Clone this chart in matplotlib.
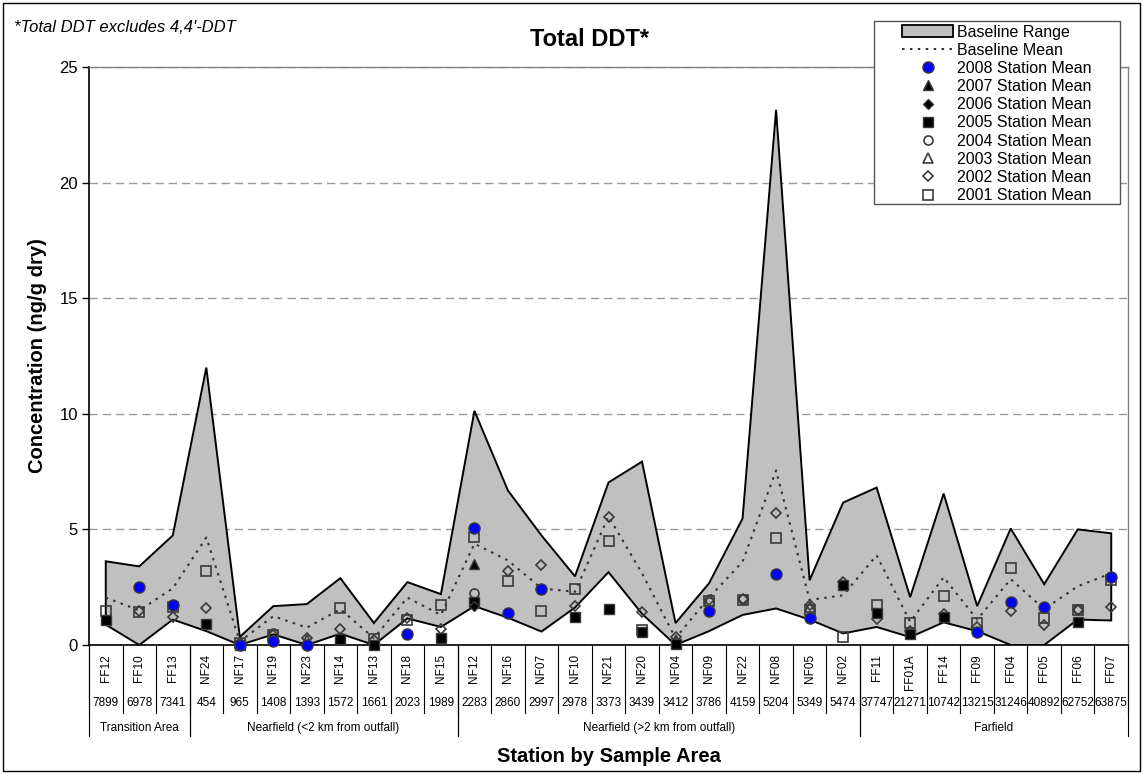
import numpy as np
import matplotlib
matplotlib.use("Agg")
import matplotlib.pyplot as plt
from matplotlib import transforms
from matplotlib.patches import Rectangle, Patch
from matplotlib.lines import Line2D

plt.rcParams['font.family'] = ['Liberation Sans', 'DejaVu Sans']

nan = np.nan

# ==========================================
# data
# ==========================================
stations = ["FF12", "FF10", "FF13", "NF24", "NF17", "NF19", "NF23", "NF14", "NF13", "NF18", "NF15",
            "NF12", "NF16", "NF07", "NF10", "NF21", "NF20", "NF04", "NF09", "NF22", "NF08", "NF05", "NF02",
            "FF11", "FF01A", "FF14", "FF09", "FF04", "FF05", "FF06", "FF07"]
depths = ["7899", "6978", "7341", "454", "965", "1408", "1393", "1572", "1661", "2023", "1989",
          "2283", "2860", "2997", "2978", "3373", "3439", "3412", "3786", "4159", "5204", "5349", "5474",
          "37747", "21271", "10742", "13215", "31246", "40892", "62752", "63875"]
areas = ["Transition Area", "Nearfield (<2 km from outfall)", "Nearfield (>2 km from outfall)", "Farfield"]
area_counts = [3, 8, 12, 8]

base_max = [3.62, 3.40, 4.74, 12.0, 0.35, 1.68, 1.77, 2.89, 0.95, 2.72, 2.2,
            10.13, 6.68, 4.74, 2.97, 7.03, 7.93, 0.95, 2.67, 5.47, 23.15, 2.8, 6.16,
            6.81, 2.07, 6.55, 1.68, 5.04, 2.63, 5.0, 4.83]
base_min = [0.88, 0.0, 1.1, 0.6, 0.0, 0.46, 0.0, 0.49, 0.0, 1.15, 0.78,
            1.68, 1.18, 0.58, 1.62, 3.15, 1.35, 0.0, 0.6, 1.3, 1.58, 1.1, 0.5,
            0.78, 0.34, 0.98, 0.6, 0.0, 0.0, 1.1, 1.06]
base_mean = [2.05, 1.5, 2.45, 4.65, 0.15, 1.25, 0.75, 1.55, 0.3, 2.05, 1.3,
             4.38, 3.66, 2.45, 2.3, 5.56, 3.1, 0.3, 2.05, 3.6, 7.55, 1.95, 2.15,
             3.88, 1.0, 2.93, 1.1, 2.85, 1.55, 2.54, 3.1]

y2008 = [nan, 2.5, 1.72, nan, 0.0, 0.17, 0.0, nan, nan, 0.49, nan,
         5.08, 1.39, 2.41, nan, nan, nan, nan, 1.49, nan, 3.06, 1.18, nan,
         nan, nan, nan, 0.58, 1.88, 1.65, nan, 2.95]
y2007 = [nan] * 11 + [3.49] + [nan] * 19
y2006 = [nan] * 11 + [1.7] + [nan] * 19
y2005 = [1.1, nan, nan, 0.89, 0.0, nan, nan, 0.24, 0.0, nan, 0.29,
         1.88, nan, nan, 1.2, 1.57, 0.55, 0.03, nan, nan, nan, nan, 2.6,
         1.39, 0.46, 1.21, nan, nan, nan, 1.0, nan]
y2004 = [nan, nan, nan, nan, nan, 0.52, nan, nan, nan, nan, nan,
         2.24, nan, nan, nan, nan, nan, nan, 1.88, 2.0, nan, nan, nan,
         nan, nan, nan, nan, nan, nan, 1.55, nan]
y2003 = [nan, nan, nan, nan, nan, nan, 0.2, nan, nan, nan, nan,
         nan, nan, nan, nan, nan, nan, 0.2, nan, nan, nan, 1.65, nan,
         nan, nan, nan, nan, nan, nan, nan, nan]
y2002 = [nan, 1.45, 1.2, 1.6, 0.1, 0.45, 0.29, 0.68, 0.2, 1.15, 0.68,
         nan, 3.19, 3.44, 1.7, 5.52, 1.44, 0.34, 1.95, 1.97, 5.69, 1.75, 2.72,
         1.12, 0.6, 1.35, 0.78, 1.49, 0.86, 1.5, 1.66]
y2001 = [1.47, 1.44, 1.65, 3.19, 0.1, 0.45, nan, 1.58, 0.28, 1.1, 1.75,
         4.65, 2.76, 1.47, 2.41, 4.48, 0.65, nan, 1.9, 1.94, 4.61, 1.5, 0.34,
         1.75, 0.97, 2.1, 0.96, 3.32, 1.18, 1.52, 2.82]

# ==========================================
# figure / axes
# ==========================================
W, H = 1143, 774
fig = plt.figure(figsize=(W / 100, H / 100), dpi=100)
AX_L, AX_R, AX_T, AX_B = 89, 1128, 67, 645
ax = fig.add_axes([AX_L / W, 1 - AX_B / H, (AX_R - AX_L) / W, (AX_B - AX_T) / H])

x = np.arange(len(stations))
ax.set_xlim(-0.5, len(stations) - 0.5)
ax.set_ylim(0, 25)

# baseline range polygon + mean
ax.fill(np.concatenate([x, x[::-1]]), np.concatenate([base_max, base_min[::-1]]),
        facecolor="#C0C0C0", edgecolor="black", linewidth=1.4, zorder=2)
ax.plot(x, base_mean, color="#333333", linewidth=1.5, linestyle=(0, (1.2, 2.6)), zorder=3)

# station means
series = [
    (y2001, dict(marker="s", ms=6.5, mfc="none", mec="#3a3a3a", mew=1.2)),
    (y2002, dict(marker="D", ms=5.2, mfc="none", mec="#3a3a3a", mew=1.2)),
    (y2003, dict(marker="^", ms=6.5, mfc="none", mec="#3a3a3a", mew=1.2)),
    (y2004, dict(marker="o", ms=6.5, mfc="none", mec="#3a3a3a", mew=1.2)),
    (y2005, dict(marker="s", ms=6.5, mfc="black", mec="#3a3a3a", mew=1.0)),
    (y2006, dict(marker="D", ms=5.2, mfc="black", mec="#3a3a3a", mew=1.0)),
    (y2007, dict(marker="^", ms=7, mfc="black", mec="#3a3a3a", mew=1.0)),
    (y2008, dict(marker="o", ms=8, mfc="#0000FF", mec="#3a3a3a", mew=1.0)),
]
for vals, st in series:
    ax.plot(x, vals, linestyle="none", zorder=4, clip_on=False, **st)

# grid / spines
ax.set_yticks([0, 5, 10, 15, 20, 25])
ax.yaxis.grid(True, color="#9a9a9a", linewidth=1.0, linestyle=(0, (6, 3.5)))
ax.set_axisbelow(True)
ax.tick_params(axis="y", direction="out", length=5, width=1, labelsize=12, pad=3)
ax.tick_params(axis="x", bottom=False, labelbottom=False)
for s in ["top", "right"]:
    ax.spines[s].set_color("#808080")
    ax.spines[s].set_linewidth(1.0)
for s in ["left", "bottom"]:
    ax.spines[s].set_color("black")
    ax.spines[s].set_linewidth(1.2)

# ==========================================
# category table under the axis
# ==========================================
trans = transforms.blended_transform_factory(ax.transData, ax.transAxes)
AXH = AX_B - AX_T


def below(px):
    return -px / AXH


for i, (name, dep) in enumerate(zip(stations, depths)):
    ax.text(i, below(9), name, rotation=90, ha="center", va="top", fontsize=8.5, transform=trans)
    ax.text(i, below(58), dep, ha="center", va="center", fontsize=8.5, transform=trans)

for b in np.arange(len(stations) + 1) - 0.5:
    ax.plot([b, b], [0, below(68)], color="black", lw=0.8, transform=trans, clip_on=False)

start = 0
for name, n in zip(areas, area_counts):
    ax.text(start + (n - 1) / 2, below(83), name, ha="center", va="center", fontsize=8.5, transform=trans)
    for b in (start - 0.5, start + n - 0.5):
        ax.plot([b, b], [0, below(91)], color="black", lw=0.8, transform=trans, clip_on=False)
    start += n

# ==========================================
# texts
# ==========================================
fig.text(590 / W, 1 - 40 / H, "Total DDT*", ha="center", va="center", fontsize=17, fontweight="bold")
fig.text(14 / W, 1 - 27 / H, "*Total DDT excludes 4,4'-DDT", ha="left", va="center",
         fontsize=12, fontstyle="italic")
fig.text(38 / W, 1 - (AX_T + AX_B) / 2 / H, "Concentration (ng/g dry)", rotation=90,
         ha="center", va="center", fontsize=14.5, fontweight="bold")
fig.text((AX_L + AX_R) / 2 / W, 1 - 757 / H, "Station by Sample Area", ha="center", va="center",
         fontsize=14.5, fontweight="bold")

# ==========================================
# legend
# ==========================================
box = Rectangle((874 / W, 1 - 204 / H), 246 / W, 183 / H, transform=fig.transFigure,
                facecolor="white", edgecolor="#555555", lw=1.0, zorder=15, clip_on=False)
ax.add_patch(box)

handles = [Patch(facecolor="#C0C0C0", edgecolor="black", linewidth=1.3),
           Line2D([], [], color="#333333", lw=1.5, linestyle=(0, (1.2, 2.6)))]
labels = ["Baseline Range", "Baseline Mean"]
for (vals, st), yr in zip(series[::-1], range(2008, 2000, -1)):
    handles.append(Line2D([], [], linestyle="none", **st))
    labels.append(f"{yr} Station Mean")

leg = ax.legend(handles, labels, loc="upper left", bbox_to_anchor=(902 / W, 1 - 24.5 / H),
                bbox_transform=fig.transFigure, frameon=False, borderpad=0, borderaxespad=0,
                handlelength=3.2, handletextpad=0.25, labelspacing=0.2, fontsize=11.5)
leg.set_zorder(20)

# outer frame
fig.add_artist(Rectangle((3 / W, 3 / H), 1137 / W, 768 / H, transform=fig.transFigure,
                         fill=False, edgecolor="black", lw=1.0))

fig.savefig("out.png", dpi=100)
